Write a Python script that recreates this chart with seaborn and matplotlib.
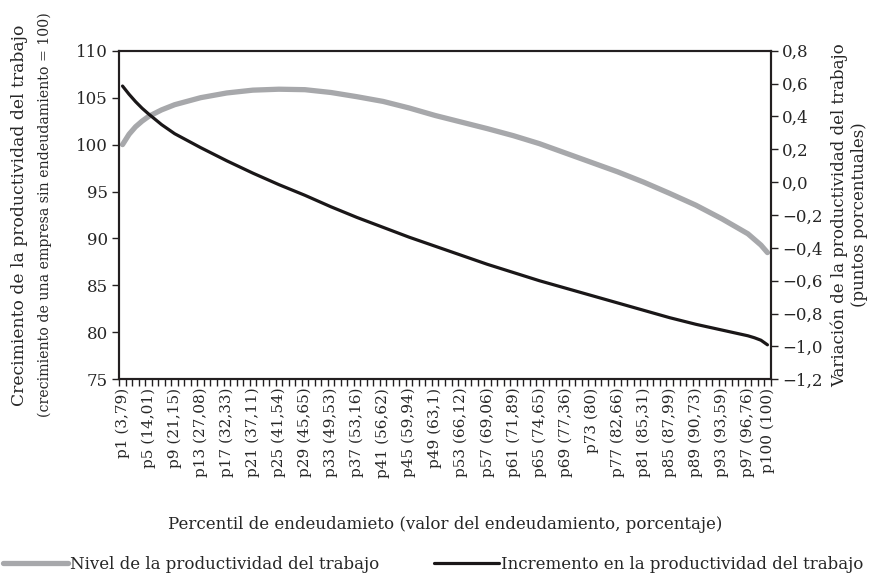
import matplotlib
matplotlib.use("Agg")
import matplotlib.pyplot as plt
import seaborn as sns
import pandas as pd

percentiles = [1, 2, 3, 4, 5, 7, 9, 13, 17, 21, 25, 29, 33, 37, 41, 45, 49, 53,
               57, 61, 65, 69, 73, 77, 81, 85, 89, 93, 97, 98, 99, 100]
nivel = [100.0, 101.1, 101.9, 102.5, 103.0, 103.7, 104.25, 105.0, 105.5, 105.8,
         105.9, 105.85, 105.55, 105.1, 104.6, 103.9, 103.1, 102.4, 101.7, 100.95,
         100.1, 99.1, 98.1, 97.1, 96.0, 94.8, 93.55, 92.1, 90.5, 89.9, 89.3, 88.5]
incremento = [0.585, 0.535, 0.49, 0.45, 0.415, 0.35, 0.295, 0.21, 0.13, 0.055,
              -0.015, -0.08, -0.15, -0.215, -0.275, -0.335, -0.39, -0.445, -0.5,
              -0.55, -0.6, -0.645, -0.69, -0.735, -0.78, -0.825, -0.865, -0.9,
              -0.935, -0.947, -0.962, -0.99]

# tick labels: percentile (debt level)
tick_pct = [1, 5, 9, 13, 17, 21, 25, 29, 33, 37, 41, 45, 49, 53, 57, 61, 65, 69,
            73, 77, 81, 85, 89, 93, 97, 100]
tick_debt = ["3,79", "14,01", "21,15", "27,08", "32,33", "37,11", "41,54", "45,65",
             "49,53", "53,16", "56,62", "59,94", "63,1", "66,12", "69,06", "71,89",
             "74,65", "77,36", "80", "82,66", "85,31", "87,99", "90,73", "93,59",
             "96,76", "100"]

left_ticks = [75, 80, 85, 90, 95, 100, 105, 110]
right_ticks = [-1.2, -1.0, -0.8, -0.6, -0.4, -0.2, 0.0, 0.2, 0.4, 0.6, 0.8]

sns.set_style("white")
plt.rcParams["font.family"] = ["DejaVu Serif"]
plt.rcParams["axes.unicode_minus"] = True

df = pd.DataFrame({"pos": [p - 1 for p in percentiles],
                   "nivel": nivel, "incremento": incremento})

fig = plt.figure(figsize=(8.79, 5.77), dpi=100)
ax = fig.add_axes([0.1357, 0.3426, 0.7411, 0.5695])
ax2 = ax.twinx()

sns.lineplot(data=df, x="pos", y="nivel", ax=ax, color="#a7a8ab", linewidth=3.8,
             label="Nivel de la productividad del trabajo", legend=False)
sns.lineplot(data=df, x="pos", y="incremento", ax=ax2, color="#1a1718", linewidth=2.3,
             label="Incremento en la productividad del trabajo", legend=False)

ax.set_xlim(-0.5, 99.5)
ax.set_ylim(75, 110)
ax2.set_ylim(-1.2, 0.8)

ax.set_xticks([p - 1 for p in tick_pct])
ax.set_xticklabels([f"p{p} ({d})" for p, d in zip(tick_pct, tick_debt)],
                   rotation=90, fontsize=11)
ax.set_xticks([i - 0.5 for i in range(101)], minor=True)
ax.tick_params(axis="x", which="major", length=0, pad=6)
ax.tick_params(axis="x", which="minor", length=5, width=1, direction="out",
               color="#231f20", bottom=True)

ax.set_yticks(left_ticks)
ax.set_yticklabels([str(v) for v in left_ticks], fontsize=12)
ax.tick_params(axis="y", length=5, width=1, direction="out", color="#231f20",
               left=True, pad=3)
ax2.set_yticks(right_ticks)
ax2.set_yticklabels([f"{v:.1f}".replace(".", ",").replace("-", "\u2212")
                     for v in right_ticks], fontsize=12)
ax2.tick_params(axis="y", length=5, width=1, direction="out", color="#231f20",
                right=True, pad=3)

for a in (ax, ax2):
    for s in a.spines.values():
        s.set_linewidth(1.5)
        s.set_color("#231f20")

ax.set_xlabel("Percentil de endeudamieto (valor del endeudamiento, porcentaje)",
              fontsize=12, labelpad=28)
ax.set_ylabel("")
# left axis title, two lines of slightly different width
ymid = 0.3426 + 0.5695 / 2
fig.text(20 / 879, ymid, "Crecimiento de la productividad del trabajo",
         rotation=90, ha="center", va="center", fontsize=12.3)
fig.text(45 / 879, ymid, "(crecimiento de una empresa sin endeudamiento = 100)",
         rotation=90, ha="center", va="center", fontsize=10.2)
ax2.set_ylabel("Variación de la productividad del trabajo\n(puntos porcentuales)",
               fontsize=12, labelpad=6, linespacing=1.25)

handles = ax.get_lines()[:1] + ax2.get_lines()[:1]
labels = [h.get_label() for h in handles]
fig.legend(handles, labels, ncol=2, loc="lower left", bbox_to_anchor=(0.0, 0.002),
           frameon=False, fontsize=12, handlelength=3.9, handletextpad=0.1,
           columnspacing=3.3, borderaxespad=0.0, borderpad=0.2)

fig.savefig("out.png", dpi=100)
